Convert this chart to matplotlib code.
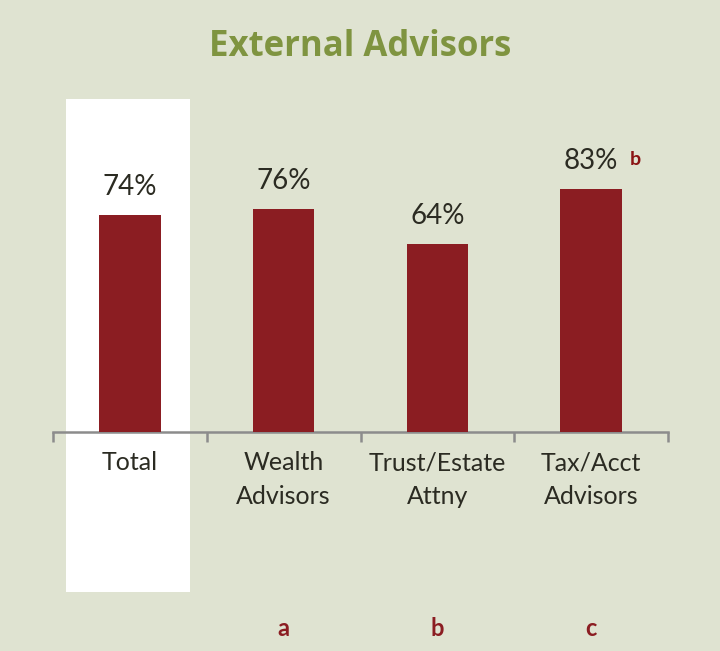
import matplotlib
matplotlib.use("Agg")
import matplotlib.pyplot as plt
from matplotlib.patches import Rectangle

categories = ["Total", "Wealth\nAdvisors", "Trust/Estate\nAttny", "Tax/Acct\nAdvisors"]
values = [74, 76, 64, 83]
value_notes = ["", "", "", "b"]
sig_letters = ["", "a", "b", "c"]

BG = "#DFE3D1"
BAR = "#8B1D22"
TXT = "#2B2B22"
TITLE = "#7F9440"

plt.rcParams['font.family'] = ['Lato', 'DejaVu Sans']

fig = plt.figure(figsize=(7.2, 6.51), dpi=100, facecolor=BG)
# white highlight behind "Total"
fig.patches.append(Rectangle((66/720, (651-592)/651), 124/720, 493/651,
                             transform=fig.transFigure, facecolor="white",
                             edgecolor="none", zorder=0))

ax = fig.add_axes([53/720, (651-432)/651, 615/720, 293/651])
ax.set_zorder(2)
ax.patch.set_alpha(0)
x = list(range(len(categories)))
ax.bar(x, values, width=0.40, color=BAR, zorder=3)
ax.set_xlim(-0.5, 3.5)
ax.set_ylim(0, 100)

for s in ["top", "right", "left"]:
    ax.spines[s].set_visible(False)
ax.spines["bottom"].set_color("#8C8C8C")
ax.spines["bottom"].set_linewidth(1.8)
ax.set_yticks([])
ax.set_xticks([-0.5, 0.5, 1.5, 2.5, 3.5])
ax.set_xticklabels([])
ax.tick_params(axis="x", direction="out", length=7.5, width=1.8, color="#8C8C8C")

for xi, lab in zip(x, categories):
    ax.annotate(lab, (xi, 0), xytext=(0, -14), textcoords="offset points",
                ha="center", va="top", fontsize=18, color=TXT, linespacing=1.55)

for xi, v, note in zip(x, values, value_notes):
    ax.annotate(f"{v}%", (xi, v), xytext=(0, 11), textcoords="offset points",
                ha="center", va="bottom", fontsize=20, color=TXT)
    if note:
        ax.annotate(note, (xi, v), xytext=(28, 15), textcoords="offset points",
                    ha="left", va="bottom", fontsize=14, color="#8B1414",
                    fontweight="bold")

for xi, letter in zip(x, sig_letters):
    if letter:
        xf = (53 + (xi + 0.5) * 153.75) / 720
        fig.text(xf, (651-628)/651, letter, ha="center", va="center",
                 fontsize=17, color=BAR, fontweight="bold")

fig.text(0.5, (651-47)/651, "External Advisors", ha="center", va="center",
         fontsize=25, fontweight="bold", color=TITLE,
         family=['Open Sans', 'DejaVu Sans'])

fig.savefig("out.png", dpi=100, facecolor=BG)
